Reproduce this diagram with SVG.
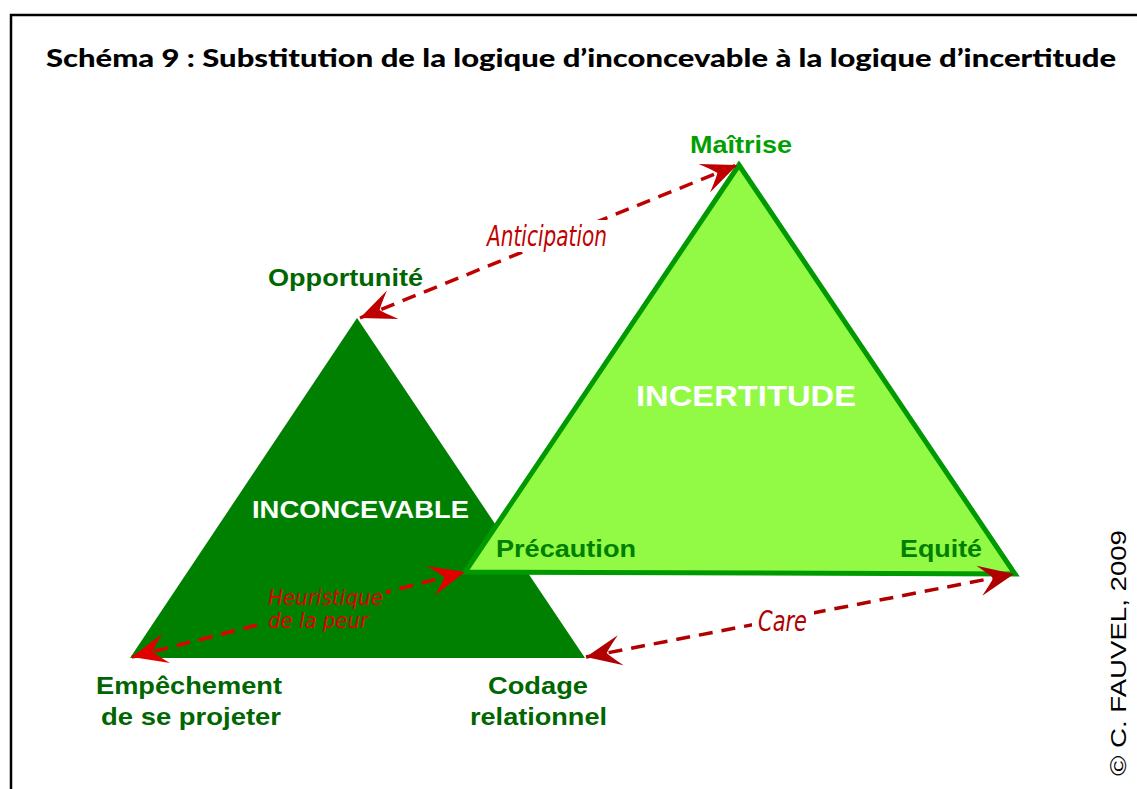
<svg xmlns="http://www.w3.org/2000/svg" width="1137" height="789" viewBox="0 0 1137 789">
<style>
.lbl{font-family:"Liberation Sans",Arial,sans-serif;font-weight:bold;}
.red{font-family:"DejaVu Sans Condensed","DejaVu Sans",sans-serif;font-style:italic;}
.dash{fill:none;stroke-width:3.5;stroke-dasharray:14 9;}
</style>
<defs>
<marker id="ahD" markerUnits="userSpaceOnUse" markerWidth="40" markerHeight="40" refX="0" refY="0" viewBox="-32 -16 34 32" orient="auto-start-reverse" overflow="visible">
<path d="M0,0 L-30,-13 Q-20,-3 -18,0 Q-20,3 -30,13 Z" fill="#C00000"/>
</marker>
<marker id="ahR" markerUnits="userSpaceOnUse" markerWidth="40" markerHeight="40" refX="0" refY="0" viewBox="-32 -16 34 32" orient="auto-start-reverse" overflow="visible">
<path d="M0,0 L-30,-13 Q-20,-3 -18,0 Q-20,3 -30,13 Z" fill="#E00000"/>
</marker>
<marker id="ahC" markerUnits="userSpaceOnUse" markerWidth="40" markerHeight="40" refX="0" refY="0" viewBox="-32 -16 34 32" orient="auto-start-reverse" overflow="visible">
<path d="M0,0 L-30,-13 Q-20,-3 -18,0 Q-20,3 -30,13 Z" fill="#B00000"/>
</marker>
</defs>
<rect width="1137" height="789" fill="#ffffff"/>
<rect x="11" y="15" width="1140" height="790" fill="none" stroke="#000000" stroke-width="2.5"/>
<text id="title" x="46" y="67" font-family="Lato,'Open Sans',sans-serif" font-weight="900" font-size="25" textLength="1070" lengthAdjust="spacingAndGlyphs" fill="#000">Schéma 9 : Substitution de la logique d’inconcevable à  la logique d’incertitude</text>

<g id="inconcevable">
<polygon points="357,318 130,658 585,658" fill="#008000"/>
<text class="lbl" x="252" y="518" font-size="24" textLength="217" lengthAdjust="spacingAndGlyphs" fill="#ffffff">INCONCEVABLE</text>
</g>
<g id="incertitude">
<polygon points="739,165 465,572 1015,574" fill="#92F944" stroke="#009900" stroke-width="5" stroke-linejoin="miter"/>
<text class="lbl" x="636" y="406" font-size="29" textLength="220" lengthAdjust="spacingAndGlyphs" fill="#ffffff">INCERTITUDE</text>
</g>

<g id="n-maitrise"><text class="lbl" x="690" y="153" font-size="24" textLength="102" lengthAdjust="spacingAndGlyphs" fill="#00A000">Maîtrise</text></g>
<g id="n-opportunite"><text class="lbl" x="268" y="286" font-size="24" textLength="155" lengthAdjust="spacingAndGlyphs" fill="#006600">Opportunité</text></g>
<g id="n-precaution"><text class="lbl" x="496" y="557" font-size="23" textLength="140" lengthAdjust="spacingAndGlyphs" fill="#008000">Précaution</text></g>
<g id="n-equite"><text class="lbl" x="900" y="557" font-size="23" textLength="82" lengthAdjust="spacingAndGlyphs" fill="#008000">Equité</text></g>
<g id="n-empechement">
<text class="lbl" x="96" y="694" font-size="24" textLength="186" lengthAdjust="spacingAndGlyphs" fill="#006600">Empêchement</text>
<text class="lbl" x="101" y="725" font-size="24" textLength="180" lengthAdjust="spacingAndGlyphs" fill="#006600">de se projeter</text>
</g>
<g id="n-codage">
<text class="lbl" x="488" y="694" font-size="24" textLength="100" lengthAdjust="spacingAndGlyphs" fill="#006600">Codage</text>
<text class="lbl" x="470" y="725" font-size="24" textLength="137" lengthAdjust="spacingAndGlyphs" fill="#006600">relationnel</text>
</g>

<g id="connectors">
<line class="dash" x1="360" y1="318" x2="737" y2="165" stroke="#C00000" marker-start="url(#ahD)" marker-end="url(#ahD)"/>
<line class="dash" x1="132" y1="657" x2="465" y2="572" stroke="#E00000" marker-start="url(#ahR)" marker-end="url(#ahR)"/>
<line class="dash" x1="586" y1="657" x2="1014" y2="574" stroke="#B00000" marker-start="url(#ahC)" marker-end="url(#ahC)"/>
<rect x="484" y="220" width="126" height="32" fill="#ffffff"/>
<text class="red" x="487" y="246" font-size="28" textLength="120" lengthAdjust="spacingAndGlyphs" fill="#C00000">Anticipation</text>
<rect x="262" y="586" width="124" height="46" fill="#008000"/>
<text class="red" x="268" y="605" font-size="22" textLength="115" lengthAdjust="spacingAndGlyphs" fill="#E00000">Heuristique</text>
<text class="red" x="268" y="628" font-size="22" textLength="100" lengthAdjust="spacingAndGlyphs" fill="#E00000">de la peur</text>
<rect x="752" y="604" width="62" height="32" fill="#ffffff"/>
<text class="red" x="758" y="631" font-size="28" textLength="49" lengthAdjust="spacingAndGlyphs" fill="#B00000">Care</text>
</g>
<text id="copyright" transform="translate(1126,776) rotate(-90)" font-family="'Liberation Sans',Arial,sans-serif" font-size="22" textLength="246" lengthAdjust="spacingAndGlyphs" fill="#000">© C. FAUVEL, 2009</text>
</svg>
